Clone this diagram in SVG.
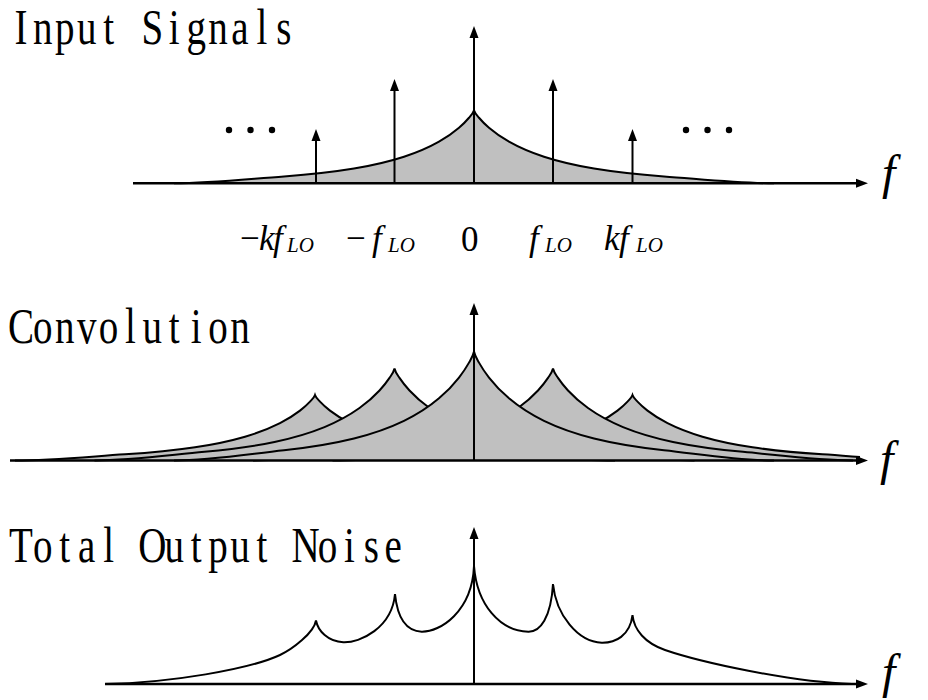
<svg xmlns="http://www.w3.org/2000/svg" width="928" height="700" viewBox="0 0 928 700">
<style>
.ttl{font-family:"Liberation Serif","Times New Roman",serif;font-size:50px;fill:#000;text-anchor:middle}
.ax{stroke:#000;stroke-width:2.5;fill:none;marker-end:url(#ah)}
.ar{stroke:#000;stroke-width:2;fill:none;marker-end:url(#ah)}
.bump{fill:#c0c0c0;stroke:#000;stroke-width:2;stroke-linejoin:miter;stroke-miterlimit:4}
.env{fill:none;stroke:#000;stroke-width:2;stroke-linejoin:miter;stroke-miterlimit:4}
.math{font-family:"Liberation Serif","Times New Roman",serif;font-size:35px;fill:#000}
.it{font-style:italic}
.sub{font-size:21px;font-style:italic}
.fl{font-family:"Liberation Serif","Times New Roman",serif;font-style:italic;font-size:48px;fill:#000}
</style>
<defs>
<marker id="ah" markerWidth="12" markerHeight="10" viewBox="0 0 12 10" refX="4" refY="5" orient="auto" markerUnits="userSpaceOnUse"><path d="M0,0.5 L12,5 L0,9.5 Z" fill="#000"/></marker>
<path id="bump" vector-effect="non-scaling-stroke" d="M-300,0 C-263.33,0 -226.67,-0.0575 -190,-0.0939 C-166.667,-0.1171 -143.333,-0.1484 -120,-0.2018 C-103.333,-0.2399 -86.667,-0.289 -70,-0.3634 C-58.333,-0.4155 -46.667,-0.4796 -35,-0.5703 C-28.333,-0.6222 -21.667,-0.6824 -15,-0.761 C-11.667,-0.8003 -8.333,-0.8433 -5,-0.898 C-3.333,-0.9254 -1,-0.955 0,-1 C1,-0.955 3.333,-0.9254 5,-0.898 C8.333,-0.8433 11.667,-0.8003 15,-0.761 C21.667,-0.6824 28.333,-0.6222 35,-0.5703 C46.667,-0.4796 58.333,-0.4155 70,-0.3634 C86.667,-0.289 103.333,-0.2399 120,-0.2018 C143.333,-0.1484 166.667,-0.1171 190,-0.0939 C226.67,-0.0575 263.33,0 300,0"/>
<clipPath id="clip2"><rect x="10" y="280" width="850" height="190"/></clipPath>
</defs>

<g id="panel1">
<text class="ttl" transform="scale(0.78,1)" x="26.9 54.9 83.0 111.1 139.2 167.3 195.3 223.4 251.5 279.6 307.6 335.7 363.8" y="44">Input Signals</text>
<g id="noise1">
<use href="#bump" class="bump" transform="translate(474,183.3) scale(1,73)"/>
</g>
<g id="connectors1">
<line class="ax" x1="133" y1="183.3" x2="860" y2="183.3"/>
<line class="ar" x1="316" y1="183.3" x2="316" y2="137"/>
<line class="ar" x1="394.5" y1="183.3" x2="394.5" y2="87"/>
<line class="ar" x1="474" y1="183.3" x2="474" y2="34"/>
<line class="ar" x1="553" y1="183.3" x2="553" y2="87"/>
<line class="ar" x1="632.5" y1="183.3" x2="632.5" y2="137"/>
</g>
<g id="dots" fill="#000">
<circle cx="229" cy="130" r="3.2"/><circle cx="250.5" cy="130" r="3.2"/><circle cx="272" cy="130" r="3.2"/>
<circle cx="686" cy="130" r="3.2"/><circle cx="707.5" cy="130" r="3.2"/><circle cx="729" cy="130" r="3.2"/>
</g>
<text class="fl" x="882" y="189">f</text>
<g id="freq-labels">
<text class="math" y="250"><tspan x="240">−</tspan><tspan class="it" x="259">k</tspan><tspan class="it" x="273">f</tspan><tspan class="sub" x="287" dy="2">LO</tspan></text>
<text class="math" y="250"><tspan x="346">−</tspan><tspan class="it" x="372">f</tspan><tspan class="sub" x="388" dy="2">LO</tspan></text>
<text class="math" x="461" y="251">0</text>
<text class="math" y="250"><tspan class="it" x="529">f</tspan><tspan class="sub" x="545" dy="2">LO</tspan></text>
<text class="math" y="250"><tspan class="it" x="604">k</tspan><tspan class="it" x="619">f</tspan><tspan class="sub" x="636" dy="2">LO</tspan></text>
</g>
</g>

<g id="panel2">
<text class="ttl" transform="scale(0.78,1)" x="26.9 54.9 83.0 111.1 139.2 167.3 195.3 223.4 251.5 279.6 307.6" y="343">Convolution</text>
<g id="noise2" clip-path="url(#clip2)">
<use href="#bump" class="bump" transform="translate(315,460.5) scale(1,65.5)"/>
<use href="#bump" class="bump" transform="translate(632.5,460.5) scale(1,65.5)"/>
<use href="#bump" class="bump" transform="translate(394.5,460.5) scale(1,92)"/>
<use href="#bump" class="bump" transform="translate(553,460.5) scale(1,92)"/>
<use href="#bump" class="bump" transform="translate(474,460.5) scale(1,109)"/>
</g>
<g id="connectors2">
<line class="ax" x1="10" y1="460.5" x2="860" y2="460.5"/>
<line class="ar" x1="474" y1="460.5" x2="474" y2="311"/>
</g>
<text class="fl" x="880" y="475">f</text>
</g>

<g id="panel3">
<text class="ttl" transform="scale(0.78,1)" x="26.9 54.9 83.0 111.1 139.2 167.3 195.3 223.4 251.5 279.6 307.6 335.7 363.8 391.9 420.0 448.0 476.1 504.2" y="562">Total Output Noise</text>
<path id="total" class="env" d="M105,684 C170,683 250,669 280,655 C292,649.4 314,633 316,620.5 C318,631 328,641.5 343.3,642.3 C360,643 392,628 395,594 C397,614 404,631 421.7,631.7 C440,632 472,612 474,566 C477,605 500,631 528.3,631.7 C540,632 551,618 553,584 C556,615 578,642 601.7,642.7 C615,643 630,636 632.5,615 C634,630 645,643 665,650 C700,662 790,682 852,684"/>
<g id="connectors3">
<line class="ax" x1="105" y1="684" x2="860" y2="684"/>
<line class="ar" x1="474" y1="684" x2="474" y2="535"/>
</g>
<text class="fl" x="882" y="688">f</text>
</g>
</svg>
